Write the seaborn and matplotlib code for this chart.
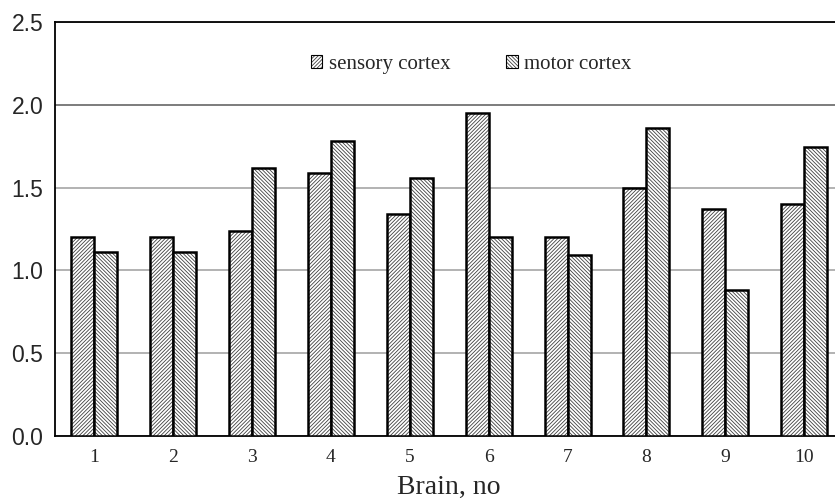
import matplotlib
matplotlib.use('Agg')
import matplotlib.pyplot as plt
import matplotlib.colors as mcolors
from matplotlib.patches import Patch
import pandas as pd
import seaborn as sns

# datos
cerebros = ['1', '2', '3', '4', '5', '6', '7', '8', '9', '10']
sensorial = [1.20, 1.20, 1.24, 1.59, 1.34, 1.95, 1.20, 1.50, 1.37, 1.40]
motora = [1.11, 1.11, 1.62, 1.78, 1.56, 1.20, 1.095, 1.86, 0.88, 1.745]
series = ['sensory cortex', 'motor cortex']
tramas = ['/' * 9, '\\' * 9]

df = pd.DataFrame({
    'brain': cerebros * 2,
    'valor': sensorial + motora,
    'serie': [series[0]] * len(cerebros) + [series[1]] * len(cerebros),
})

sns.set_theme(style="white")
plt.rcParams['hatch.linewidth'] = 0.6
plt.rcParams['hatch.color'] = '0.25'

fig = plt.figure(figsize=(8.35, 5.01), dpi=100)
# el eje derecho queda fuera de la imagen, como en el original
ax = fig.add_axes([0.0654, 0.1297, 0.945, 0.8263])

sns.barplot(data=df, x='brain', y='valor', hue='serie', order=cerebros,
            hue_order=series, width=0.583, dodge=True, ax=ax, legend=False,
            palette=['white', 'white'], saturation=1, errorbar=None)

for cont, trama in zip(ax.containers, tramas):
    for p in cont:
        p.set_hatch(trama)
        p.set_edgecolor('black')
        p.set_linewidth(1.8)
        p._hatch_color = mcolors.to_rgba('0.25')
        p.set_zorder(3)

ax.set_xlim(-0.5, 9.5)
ax.set_ylim(0, 2.5)
ax.set_yticks([0.0, 0.5, 1.0, 1.5, 2.0, 2.5])
ax.set_yticklabels(['0.0', '0.5', '1.0', '1.5', '2.0', '2.5'],
                   fontfamily='Liberation Sans', fontsize=16.5)
ax.set_xticks(range(len(cerebros)))
ax.set_xticklabels(cerebros, fontfamily='Liberation Serif', fontsize=14)
ax.tick_params(axis='y', length=0, pad=8)
ax.tick_params(axis='x', length=0, pad=9)

ax.yaxis.grid(True, color='0.62', linewidth=1.1, zorder=0)
ax.set_axisbelow(True)
lineas = ax.get_ygridlines()
lineas[4].set_color('0.35')

for lado in ['left', 'bottom', 'top']:
    ax.spines[lado].set_visible(True)
    ax.spines[lado].set_color('black')
    ax.spines[lado].set_linewidth(1.3)
ax.spines['right'].set_visible(False)

ax.set_xlabel('Brain, no', fontfamily='Liberation Serif', fontsize=20)
ax.xaxis.set_label_coords(0.499, -0.093)
ax.set_ylabel('')

manijas = [Patch(facecolor='white', edgecolor='black', hatch=t, linewidth=0.8)
           for t in tramas]
for m in manijas:
    m._hatch_color = mcolors.to_rgba('0.25')
leg = ax.legend(manijas, series, ncol=2, frameon=False,
                loc='center', bbox_to_anchor=(0.528, 0.898),
                prop={'family': 'Liberation Serif', 'size': 15},
                handlelength=0.55, handleheight=0.55, handletextpad=0.3,
                columnspacing=2.7)

plt.savefig('out.png', dpi=100)
plt.close()
